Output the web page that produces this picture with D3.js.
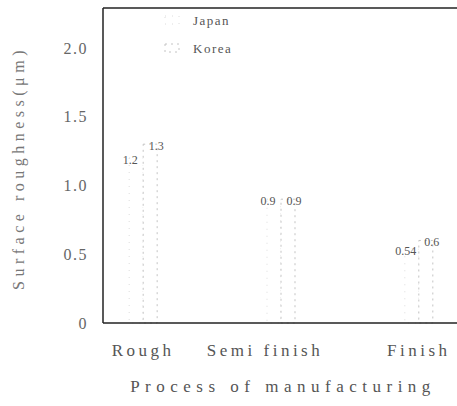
<!DOCTYPE html>
<html>
<head>
<meta charset="utf-8">
<script src="https://cdn.jsdelivr.net/npm/d3@7"></script>
<style>
  body { margin: 0; background: #fff; }
</style>
</head>
<body>
<svg id="chart"></svg>
<script>
const categories = ['Rough', 'Semi finish', 'Finish'];
const seriesNames = ['Japan', 'Korea'];
const japanValues = [1.2, 0.9, 0.54];
const koreaValues = [1.3, 0.9, 0.6];
const valueLabels = [['1.2', '1.3'], ['0.9', '0.9'], ['0.54', '0.6']];
const yTicks = [0, 0.5, 1.0, 1.5, 2.0];
const yTickLabels = ['0', '0.5', '1.0', '1.5', '2.0'];

const width = 457, height = 406;
const margin = {top: 8, left: 103, bottom: 83};
const plotRight = 459;
const serif = '"Liberation Serif", "Times New Roman", serif';

const svg = d3.select('#chart')
    .attr('width', width)
    .attr('height', height)
    .attr('font-family', serif);

const x = d3.scaleBand()
    .domain(categories)
    .range([margin.left, plotRight])
    .paddingInner(0.797)
    .paddingOuter(0.19);

const xSub = d3.scaleBand()
    .domain(seriesNames)
    .range([0, x.bandwidth()]);

const y = d3.scaleLinear()
    .domain([0, 2.29])
    .range([height - margin.bottom, margin.top]);

const data = categories.map((c, i) => ({
  category: c,
  values: [
    {name: 'Japan', value: japanValues[i], label: valueLabels[i][0]},
    {name: 'Korea', value: koreaValues[i], label: valueLabels[i][1]}
  ]
}));

const barStyle = {
  Japan: {stroke: '#dcdcdc', dash: '1,6'},
  Korea: {stroke: '#c4c4c4', dash: '2,4'}
};

// bars (faded scan look)
const groups = svg.append('g')
    .selectAll('g')
    .data(data)
    .enter().append('g')
    .attr('transform', d => `translate(${x(d.category)},0)`);

groups.selectAll('rect')
    .data(d => d.values)
    .enter().append('rect')
    .attr('x', d => xSub(d.name))
    .attr('y', d => y(d.value))
    .attr('width', xSub.bandwidth())
    .attr('height', d => y(0) - y(d.value))
    .attr('fill', '#fff')
    .attr('stroke', d => barStyle[d.name].stroke)
    .attr('stroke-dasharray', d => barStyle[d.name].dash)
    .attr('stroke-width', 1);

groups.selectAll('text')
    .data(d => d.values)
    .enter().append('text')
    .attr('x', d => xSub(d.name) + xSub.bandwidth() / 2 + (d.name === 'Japan' ? -6 : 6))
    .attr('y', d => y(d.value) + 6)
    .attr('text-anchor', 'middle')
    .attr('font-family', serif)
    .attr('font-size', 12)
    .attr('fill', '#555')
    .text(d => d.label);

// frame
const frame = svg.append('g')
    .attr('stroke', '#222')
    .attr('fill', 'none');
frame.append('line')
    .attr('x1', margin.left).attr('x2', width)
    .attr('y1', margin.top).attr('y2', margin.top)
    .attr('stroke-width', 1.5);
frame.append('line')
    .attr('x1', margin.left).attr('x2', margin.left)
    .attr('y1', margin.top).attr('y2', y(0))
    .attr('stroke-width', 1.5);

// y axis
const yAxis = svg.append('g')
    .attr('transform', `translate(${margin.left},0)`)
    .call(d3.axisLeft(y)
        .tickValues(yTicks)
        .tickFormat((d, i) => yTickLabels[i])
        .tickSize(0)
        .tickPadding(15))
    .attr('font-family', serif);
yAxis.select('.domain').remove();
yAxis.selectAll('text')
    .attr('font-family', serif)
    .attr('font-size', 16)
    .attr('fill', '#666')
    .attr('letter-spacing', 1.5);

// x axis
const xAxis = svg.append('g')
    .attr('transform', `translate(0,${y(0)})`)
    .call(d3.axisBottom(x).tickSize(0).tickPadding(21))
    .attr('font-family', serif);
xAxis.select('.domain')
    .attr('stroke', '#222')
    .attr('stroke-width', 1.5)
    .attr('d', `M${margin.left},0H${width}`);
xAxis.selectAll('text')
    .attr('font-family', serif)
    .attr('font-size', 17)
    .attr('fill', '#555')
    .attr('letter-spacing', 3.5)
    .attr('dx', d => d === 'Semi finish' ? -16 : 0);

// axis titles
svg.append('text')
    .attr('x', 283)
    .attr('y', 392)
    .attr('text-anchor', 'middle')
    .attr('font-family', serif)
    .attr('font-size', 17)
    .attr('letter-spacing', 5.5)
    .attr('fill', '#555')
    .text('Process of manufacturing');

svg.append('text')
    .attr('transform', 'translate(24,168) rotate(-90)')
    .attr('text-anchor', 'middle')
    .attr('font-family', serif)
    .attr('font-size', 16)
    .attr('letter-spacing', 4.5)
    .attr('fill', '#777')
    .text('Surface roughness(\u03bcm)');

// legend
const legend = svg.append('g')
    .selectAll('g')
    .data(seriesNames)
    .enter().append('g')
    .attr('transform', (d, i) => `translate(165,${21 + i * 28})`);

legend.append('rect')
    .attr('x', 0).attr('y', -5)
    .attr('width', 14).attr('height', 8)
    .attr('fill', '#fff')
    .attr('stroke', d => barStyle[d].stroke)
    .attr('stroke-dasharray', d => barStyle[d].dash);

legend.append('text')
    .attr('x', 28)
    .attr('y', 4)
    .attr('font-family', serif)
    .attr('font-size', 13)
    .attr('letter-spacing', 1.5)
    .attr('fill', '#555')
    .text(d => d);
</script>
</body>
</html>
